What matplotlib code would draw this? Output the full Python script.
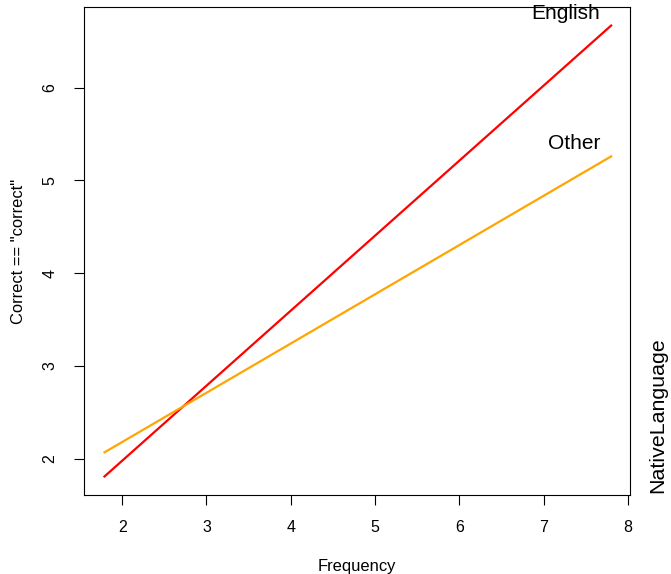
import matplotlib
matplotlib.use("Agg")
import matplotlib.pyplot as plt

plt.rcParams['font.family'] = ['Liberation Sans', 'DejaVu Sans']

# fitted lines (endpoints)
frequency = [1.79, 7.80]
english = [1.81, 6.67]
other = [2.07, 5.26]
xticks = [2, 3, 4, 5, 6, 7, 8]
yticks = [2, 3, 4, 5, 6]

fig = plt.figure(figsize=(6.71, 5.74), dpi=100)
ax = fig.add_axes([0.1252, 0.1376, 0.8137, 0.8502])

ax.plot(frequency, english, color='red', lw=1.6)
ax.plot(frequency, other, color='orange', lw=1.6)

ax.set_xlim(1.547, 8.024)
ax.set_ylim(1.61, 6.87)

ax.text(7.67, 6.80, 'English', ha='right', va='center', fontsize=15, clip_on=False)
ax.text(7.67, 5.40, 'Other', ha='right', va='center', fontsize=15, clip_on=False)

ax.set_xticks(xticks)
ax.set_yticks(yticks)
ax.set_yticklabels([str(v) for v in yticks], rotation=90, va='center')
ax.tick_params(length=7, width=0.8, labelsize=11.5)
ax.tick_params(axis='x', pad=11)
ax.tick_params(axis='y', pad=12)
for s in ax.spines.values():
    s.set_linewidth(0.8)

ax.set_xlabel('Frequency', fontsize=11.9, labelpad=17)
ax.set_ylabel('Correct == "correct"', fontsize=11.9, labelpad=12)

fig.text(658 / 671, 1 - 415 / 574, 'NativeLanguage', rotation=90,
         ha='center', va='center', fontsize=15.4)

fig.savefig('out.png', dpi=100)
